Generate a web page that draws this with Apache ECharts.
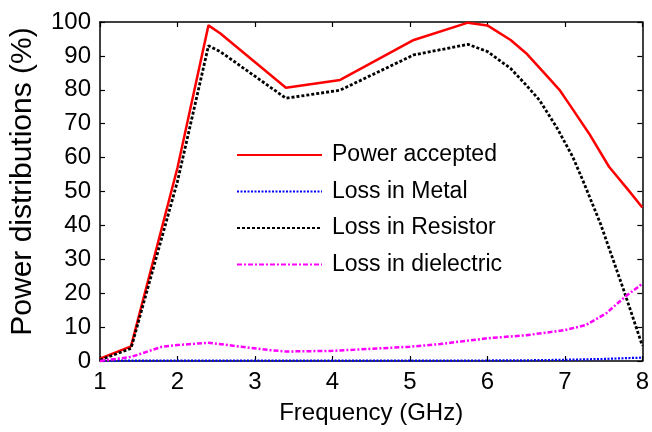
<!DOCTYPE html>
<html>
<head>
<meta charset="utf-8">
<script src="https://cdn.jsdelivr.net/npm/echarts@6/dist/echarts.min.js"></script>
<style>
  html, body { margin: 0; padding: 0; background: #fff; }
  #chart { width: 652px; height: 432px; }
</style>
</head>
<body>
<div id="chart"></div>
<script>
// Frequency samples (GHz) and power shares (%) for each curve
var freqAccepted = [1, 1.4, 2.0, 2.4, 2.55, 3.4, 4.1, 5.05, 5.75, 6.0, 6.3, 6.5, 6.8, 6.93, 7.05, 7.31, 7.57, 7.82, 8];
var powerAccepted = [0.7, 4.3, 57, 99, 96.7, 80.6, 82.9, 94.7, 99.8, 99, 94.7, 90.8, 83.3, 80, 76, 67.2, 57.3, 50.4, 45.3];

var freqMetal = [1, 2, 3, 4, 5, 6, 6.5, 7, 7.5, 8];
var lossMetal = [0.1, 0.1, 0.1, 0.1, 0.1, 0.15, 0.2, 0.35, 0.6, 1.0];

var freqResistor = [1, 1.4, 2.0, 2.4, 2.55, 3.4, 4.1, 5.05, 5.75, 6.0, 6.3, 6.5, 6.67, 6.89, 7.1, 7.23, 7.46, 7.76, 8];
var lossResistor = [0.3, 3.7, 53, 93, 91.3, 77.5, 79.9, 90.3, 93.4, 91.3, 86.3, 81.4, 77, 69.1, 60.3, 53.4, 40.5, 20.9, 4.5];

var freqDielectric = [1, 1.4, 1.8, 2.0, 2.4, 2.83, 3.2, 3.4, 4.0, 5.0, 5.39, 6.0, 6.5, 7.0, 7.27, 7.53, 7.78, 8];
var lossDielectric = [0, 1.2, 4.2, 4.7, 5.4, 4.2, 3.2, 2.8, 3.0, 4.2, 5.0, 6.7, 7.6, 9.1, 10.6, 14.0, 19.0, 22.8];

var seriesNames = ['Power accepted', 'Loss in Metal', 'Loss in Resistor', 'Loss in dielectric'];

var xTicks = { min: 1, max: 8, interval: 1 };
var yTicks = { min: 0, max: 100, interval: 10 };

function pairs(xs, ys) {
  return xs.map(function (x, i) { return [x, ys[i]]; });
}

var FONT = 'Liberation Sans, Arial, sans-serif';

function lineSeries(name, xs, ys, color, width, dash) {
  return {
    name: name,
    type: 'line',
    data: pairs(xs, ys),
    symbol: 'none',
    smooth: false,
    lineStyle: { color: color, width: width, type: dash },
    itemStyle: { color: color },
    animation: false
  };
}

var chart = echarts.init(document.getElementById('chart'), null, { renderer: 'canvas' });

var boxAxisX = {
  type: 'value', min: xTicks.min, max: xTicks.max, interval: xTicks.interval,
  axisLine: { show: true, onZero: false, lineStyle: { color: '#000', width: 1.5 } },
  axisTick: { show: true, inside: true, length: 5, lineStyle: { color: '#000', width: 1.2 } },
  splitLine: { show: false }
};
var boxAxisY = {
  type: 'value', min: yTicks.min, max: yTicks.max, interval: yTicks.interval,
  axisLine: { show: true, onZero: false, lineStyle: { color: '#000', width: 1.5 } },
  axisTick: { show: true, inside: true, length: 5, lineStyle: { color: '#000', width: 1.2 } },
  splitLine: { show: false }
};

chart.setOption({
  backgroundColor: '#fff',
  animation: false,
  grid: { left: 97, right: 8, top: 22, bottom: 71, containLabel: false },
  legend: {
    data: seriesNames,
    orient: 'vertical',
    left: 231,
    top: 138,
    itemWidth: 85,
    itemHeight: 14,
    itemGap: 12.5,
    itemStyle: { opacity: 0 },
    textStyle: { fontFamily: FONT, fontSize: 23, color: '#000', lineHeight: 24, padding: [0, 0, 0, 5] },
    selectedMode: false
  },
  xAxis: [
    Object.assign({}, boxAxisX, {
      position: 'bottom',
      name: 'Frequency (GHz)',
      nameLocation: 'middle',
      nameGap: 40,
      nameTextStyle: { fontFamily: FONT, fontSize: 24, color: '#000' },
      axisLabel: { show: true, margin: 9, fontFamily: FONT, fontSize: 24, color: '#000' }
    }),
    Object.assign({}, boxAxisX, { position: 'top', axisLabel: { show: false } })
  ],
  yAxis: [
    Object.assign({}, boxAxisY, {
      position: 'left',
      name: 'Power distributions (%)',
      nameLocation: 'middle',
      nameGap: 62,
      nameTextStyle: { fontFamily: FONT, fontSize: 30, color: '#000', padding: [0, 0, 0, 20] },
      axisLabel: { show: true, margin: 9, fontFamily: FONT, fontSize: 24, color: '#000' }
    }),
    Object.assign({}, boxAxisY, { position: 'right', axisLabel: { show: false } })
  ],
  series: [
    lineSeries(seriesNames[0], freqAccepted, powerAccepted, '#ff0000', 2.5, 'solid'),
    lineSeries(seriesNames[1], freqMetal, lossMetal, '#0000ff', 2.2, [2, 1.5]),
    lineSeries(seriesNames[2], freqResistor, lossResistor, '#000000', 2.8, [3, 2]),
    lineSeries(seriesNames[3], freqDielectric, lossDielectric, '#ff00ff', 2.5, [5, 2, 2, 2])
  ]
});
</script>
</body>
</html>
